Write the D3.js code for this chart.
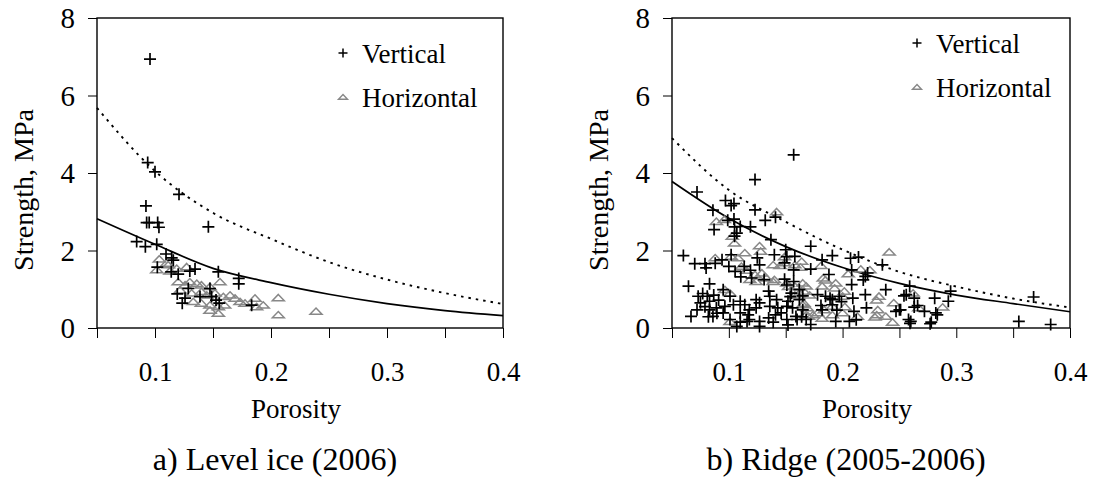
<!DOCTYPE html>
<html>
<head>
<meta charset="utf-8">
<script src="https://cdn.jsdelivr.net/npm/d3@7"></script>
<style>
  body { margin: 0; background: #fff; }
  svg text { font-family: "Liberation Serif", "Times New Roman", serif; fill: #000; }
</style>
</head>
<body>
<svg id="chart" width="1093" height="479"></svg>
<script>
// ---- data ----
const yTicks = [0, 2, 4, 6, 8];
const xTicks = [0.05, 0.1, 0.15, 0.2, 0.25, 0.3, 0.35, 0.4];
const xLabels = [0.1, 0.2, 0.3, 0.4];
const seriesNames = ["Vertical", "Horizontal"];
const panelTitles = ["a) Level ice (2006)", "b) Ridge (2005-2006)"];

const levelVertical = [
  [0.0957,6.94],[0.0937,4.27],[0.100,4.03],[0.1207,3.45],[0.0922,3.15],[0.0928,2.72],[0.095,2.72],
  [0.1023,2.72],[0.1034,2.6],[0.146,2.61],[0.0842,2.23],[0.0917,2.10],[0.1015,2.16],[0.1095,1.91],
  [0.1144,1.81],[0.1158,1.75],[0.102,1.57],[0.114,1.45],[0.120,1.39],[0.130,1.47],[0.1345,1.52],
  [0.1546,1.45],[0.1722,1.28],[0.1722,1.14],[0.1287,1.02],[0.1474,1.02],[0.1192,0.88],[0.1259,0.77],
  [0.1235,0.64],[0.1388,0.81],[0.1488,0.81],[0.1526,0.72],[0.1554,0.64],[0.1833,0.59]
];
const levelHorizontal = [
  [0.1037,1.78],[0.110,1.67],[0.1015,1.50],[0.1115,1.63],[0.1129,1.47],[0.1187,1.54],[0.1273,1.58],
  [0.120,1.19],[0.1259,1.11],[0.130,1.19],[0.136,1.15],[0.140,1.11],[0.1474,1.07],[0.156,1.19],
  [0.1216,0.98],[0.1316,0.90],[0.140,0.94],[0.1446,0.85],[0.1517,0.90],[0.1589,0.81],[0.133,0.68],
  [0.140,0.64],[0.1474,0.59],[0.1546,0.55],[0.160,0.59],[0.1647,0.85],[0.169,0.77],[0.1733,0.68],
  [0.1776,0.64],[0.1862,0.77],[0.1876,0.55],[0.1933,0.59],[0.2063,0.78],[0.2063,0.34],[0.1546,0.38],
  [0.1474,0.46],[0.2388,0.43]
];
const levelFitSolid = [[0.05,2.82],[0.1,2.16],[0.15,1.54],[0.2,1.17],[0.25,0.87],[0.3,0.63],[0.35,0.45],[0.4,0.32]];
const levelFitDotted = [[0.05,5.68],[0.1,4.05],[0.15,2.97],[0.2,2.3],[0.25,1.7],[0.3,1.25],[0.35,0.9],[0.4,0.62]];

const ridgeVertical = [
  [0.157,4.47],[0.123,3.83],[0.072,3.51],[0.097,3.29],[0.1045,3.21],[0.102,3.16],[0.086,3.04],[0.123,3.05],
  [0.099,2.78],[0.1045,2.81],[0.132,2.78],[0.119,2.61],[0.141,2.86],[0.087,2.54],[0.11,2.62],[0.105,2.61],
  [0.107,2.45],[0.105,2.37],[0.137,2.28],[0.172,2.11],[0.150,2.02],[0.140,1.89],[0.125,1.81],[0.158,1.85],
  [0.149,1.68],[0.102,1.89],[0.06,1.87],[0.07,1.66],[0.079,1.66],[0.08,1.55],[0.1,1.59],[0.1055,1.46],
  [0.1135,1.59],[0.127,1.63],[0.119,1.49],[0.1105,1.32],[0.12,1.29],[0.131,1.25],[0.149,1.26],[0.157,1.20],
  [0.0645,1.08],[0.083,1.14],[0.077,0.89],[0.073,0.82],[0.081,0.82],[0.083,0.69],[0.075,0.65],[0.0667,0.30],
  [0.072,0.47],[0.083,0.47],[0.095,0.99],[0.101,0.82],[0.0965,0.56],[0.104,0.60],[0.11,0.69],[0.114,0.60],
  [0.118,0.47],[0.117,0.34],[0.124,0.73],[0.127,0.65],[0.124,0.52],[0.135,0.95],[0.136,0.82],[0.142,0.73],
  [0.136,0.56],[0.143,0.52],[0.141,0.34],[0.151,0.56],[0.155,0.90],[0.152,0.69],[0.162,0.99],[0.162,0.73],
  [0.165,0.47],[0.159,0.30],[0.151,0.22],[0.168,0.22],[0.135,0.26],[0.127,0.17],[0.118,0.22],[0.11,0.15],
  [0.107,0.04],[0.101,0.22],[0.095,0.39],[0.089,0.52],[0.086,0.30],[0.11,0.39],[0.116,0.17],[0.127,0.04],
  [0.139,0.15],[0.146,0.39],[0.088,1.67],[0.094,1.76],[0.0867,0.85],[0.091,0.72],[0.079,0.55],[0.0895,0.38],
  [0.082,0.29],[0.191,1.87],[0.207,1.80],[0.214,1.83],[0.182,1.76],[0.235,1.63],[0.222,1.42],[0.22,1.33],
  [0.157,1.50],[0.172,1.52],[0.188,1.38],[0.208,1.12],[0.22,0.86],[0.238,0.99],[0.256,0.86],[0.259,1.08],
  [0.165,0.83],[0.178,0.86],[0.185,0.82],[0.191,0.73],[0.197,0.82],[0.156,0.52],[0.181,0.58],[0.182,0.47],
  [0.191,0.60],[0.21,0.43],[0.221,0.52],[0.247,0.43],[0.25,0.47],[0.266,0.58],[0.272,0.43],[0.282,0.39],
  [0.263,0.77],[0.160,0.22],[0.172,0.09],[0.194,0.17],[0.206,0.17],[0.26,0.17],[0.278,0.15],[0.281,0.77],
  [0.254,0.83],[0.295,0.95],[0.293,0.69],[0.251,0.47],[0.263,0.54],[0.277,0.11],[0.258,0.22],[0.368,0.80],
  [0.355,0.17],[0.383,0.09],[0.151,1.84],[0.208,1.50],[0.209,0.77],[0.151,1.11],[0.154,0.81],[0.164,0.29],
  [0.189,0.77],[0.195,0.46],[0.199,0.68],[0.212,0.21],[0.152,0.08],[0.2182,1.24],[0.2833,0.34],[0.2593,0.12]
];
const ridgeHorizontal = [
  [0.142,3.0],[0.089,2.75],[0.096,2.80],[0.103,2.37],[0.105,2.19],[0.127,2.12],[0.128,1.98],[0.114,1.94],
  [0.108,1.81],[0.088,1.81],[0.102,1.85],[0.139,1.63],[0.145,1.61],[0.149,1.68],[0.158,1.63],[0.164,1.72],
  [0.111,1.59],[0.1155,1.49],[0.123,1.38],[0.129,1.42],[0.133,1.29],[0.14,1.25],[0.1185,1.25],[0.124,1.20],
  [0.151,1.16],[0.158,1.08],[0.165,1.16],[0.162,0.90],[0.0965,0.99],[0.101,0.90],[0.165,0.60],[0.168,0.34],
  [0.101,0.17],[0.241,1.96],[0.163,1.57],[0.181,1.61],[0.205,1.40],[0.216,1.52],[0.183,1.29],[0.194,1.16],
  [0.193,1.03],[0.182,1.08],[0.168,1.08],[0.166,0.95],[0.2015,0.95],[0.2,0.82],[0.232,0.82],[0.245,0.65],
  [0.231,0.47],[0.238,0.30],[0.244,0.15],[0.262,0.90],[0.267,0.52],[0.169,0.52],[0.178,0.39],[0.184,0.47],
  [0.191,0.56],[0.2,0.39],[0.213,0.30],[0.17,0.30],[0.191,0.34],[0.288,0.54],[0.149,1.84],[0.224,1.50],
  [0.139,1.20],[0.1525,1.07],[0.158,0.85],[0.171,0.85],[0.166,0.64],[0.185,1.24],[0.202,0.55],[0.23,0.72],
  [0.23,0.34],[0.174,0.34],[0.182,0.25],[0.2285,0.28]
];
const ridgeFitSolid = [[0.05,3.78],[0.1,2.83],[0.15,2.1],[0.2,1.56],[0.25,1.15],[0.3,0.85],[0.35,0.63],[0.4,0.42]];
const ridgeFitDotted = [[0.05,4.9],[0.1,3.56],[0.15,2.74],[0.2,2.02],[0.25,1.45],[0.3,1.07],[0.35,0.76],[0.4,0.53]];

const svg = d3.select("#chart");
const triColor = "#888888";
const serif = '"Liberation Serif", "Times New Roman", serif';

function plusPath(s) {
  return "M" + (-s) + ",0H" + s + "M0," + (-s) + "V" + s;
}
function triPath(s) {
  const h = s * 0.9;
  return "M0," + (-h * 0.62) + "L" + s + "," + (h * 0.55) + "L" + (-s) + "," + (h * 0.55) + "Z";
}

function drawPanel(p) {
  const x = d3.scaleLinear().domain([0.05, 0.4]).range([p.left, p.right]);
  const y = d3.scaleLinear().domain([0, 8]).range([p.bottom, p.top]);
  const g = svg.append("g");

  // frame
  g.append("rect")
    .attr("x", p.left).attr("y", p.top)
    .attr("width", p.right - p.left).attr("height", p.bottom - p.top)
    .attr("fill", "none").attr("stroke", "#000").attr("stroke-width", 1.4);

  const xAxis = g.append("g")
    .attr("transform", "translate(0," + p.bottom + ")")
    .call(d3.axisBottom(x).tickValues(xTicks).tickSize(10)
      .tickFormat(d => xLabels.some(v => Math.abs(v - d) < 1e-9) ? d3.format(".1f")(d) : ""));
  xAxis.attr("font-family", null);
  xAxis.select(".domain").remove();
  xAxis.selectAll("line").attr("stroke", "#000").attr("stroke-width", 1);
  xAxis.selectAll("text").attr("y", 53).attr("dy", 0)
    .style("font-size", "27px").style("font-family", serif);

  const yAxis = g.append("g")
    .attr("transform", "translate(" + p.left + ",0)")
    .call(d3.axisLeft(y).tickValues(yTicks).tickSize(9).tickPadding(13).tickFormat(d3.format("d")));
  yAxis.attr("font-family", null);
  yAxis.select(".domain").remove();
  yAxis.selectAll("line").attr("stroke", "#000").attr("stroke-width", 1);
  yAxis.selectAll("text").attr("dy", "0.34em")
    .style("font-size", "29px").style("font-family", serif);

  // fitted curves
  const line = d3.line().x(d => x(d[0])).y(d => y(d[1])).curve(d3.curveMonotoneX);
  g.append("path").datum(p.solid).attr("d", line)
    .attr("fill", "none").attr("stroke", "#000").attr("stroke-width", 1.7);
  g.append("path").datum(p.dotted).attr("d", line)
    .attr("fill", "none").attr("stroke", "#000").attr("stroke-width", 1.9)
    .attr("stroke-dasharray", "2.5,5");

  // points
  g.selectAll(".tri").data(p.horizontal).enter().append("path")
    .attr("class", "tri")
    .attr("transform", d => "translate(" + x(d[0]) + "," + y(d[1]) + ")")
    .attr("d", triPath(6))
    .attr("fill", "none").attr("stroke", triColor).attr("stroke-width", 1.5);
  g.selectAll(".plus").data(p.vertical).enter().append("path")
    .attr("class", "plus")
    .attr("transform", d => "translate(" + x(d[0]) + "," + y(d[1]) + ")")
    .attr("d", plusPath(6))
    .attr("fill", "none").attr("stroke", "#000").attr("stroke-width", 1.7);

  // legend
  g.append("path").attr("transform", "translate(" + p.legX + "," + p.legY + ")")
    .attr("d", plusPath(4.5)).attr("stroke", "#000").attr("stroke-width", 1.5).attr("fill", "none");
  g.append("text").attr("x", p.legX + 19).attr("y", p.legY + 10)
    .style("font-size", "27px").style("font-family", serif).text(seriesNames[0]);
  g.append("path").attr("transform", "translate(" + p.legX + "," + (p.legY + 44) + ")")
    .attr("d", triPath(4.5)).attr("stroke", triColor).attr("stroke-width", 1.4).attr("fill", "none");
  g.append("text").attr("x", p.legX + 19).attr("y", p.legY + 54)
    .style("font-size", "27px").style("font-family", serif).text(seriesNames[1]);

  // axis titles
  g.append("text")
    .attr("transform", "translate(" + (p.left - 74) + "," + ((p.top + p.bottom) / 2 + 17) + ") rotate(-90)")
    .attr("text-anchor", "middle").attr("dy", "0.35em")
    .style("font-size", "28px").style("font-family", serif).text("Strength, MPa");
  g.append("text").attr("x", (p.left + p.right) / 2 - 4).attr("y", 418)
    .attr("text-anchor", "middle").style("font-size", "27px").style("font-family", serif).text("Porosity");
  g.append("text").attr("x", (p.left + p.right) / 2 - 25).attr("y", 470)
    .attr("text-anchor", "middle").style("font-size", "32px").style("font-family", serif).text(p.title);
}

drawPanel({
  left: 97, right: 503, top: 18, bottom: 328,
  vertical: levelVertical, horizontal: levelHorizontal,
  solid: levelFitSolid, dotted: levelFitDotted,
  legX: 343, legY: 53, title: panelTitles[0]
});
drawPanel({
  left: 672, right: 1070, top: 18, bottom: 328,
  vertical: ridgeVertical, horizontal: ridgeHorizontal,
  solid: ridgeFitSolid, dotted: ridgeFitDotted,
  legX: 917, legY: 43, title: panelTitles[1]
});
</script>
</body>
</html>
